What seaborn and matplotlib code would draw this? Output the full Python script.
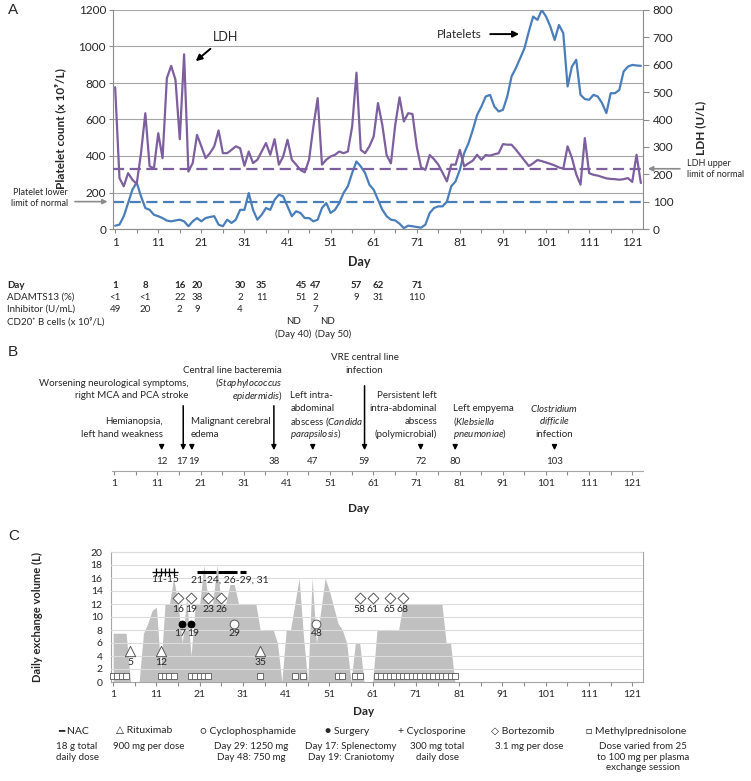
import matplotlib
matplotlib.use("Agg")
from matplotlib import pyplot as plt
from matplotlib.transforms import blended_transform_factory
import seaborn as sns
import pandas as pd

# ---------------- data ----------------
days = list(range(1, 124))
platelets = [18, 24, 70, 142, 215, 255, 179, 115, 105, 78,
             70, 60, 46, 42, 47, 51, 42, 15, 42, 60,
             42, 60, 66, 70, 24, 15, 51, 33, 51, 105,
             105, 197, 105, 51, 78, 115, 105, 160, 188, 179,
             124, 70, 97, 88, 60, 60, 42, 51, 115, 142,
             88, 105, 142, 197, 234, 307, 370, 343, 307, 243,
             215, 160, 106, 70, 51, 47, 29, 5, 18, 15,
             11, 7, 24, 88, 115, 124, 124, 151, 234, 261,
             325, 416, 470, 543, 625, 671, 726, 735, 671, 644,
             653, 726, 836, 882, 936, 991, 1082, 1164, 1146, 1200,
             1164, 1109, 1036, 1118, 1073, 781, 890, 927, 735, 712,
             708, 735, 726, 690, 635, 744, 744, 762, 863, 890,
             899, 896, 894]
ldh = [518, 186, 156, 204, 180, 165, 277, 423, 229, 222,
       350, 259, 551, 596, 545, 328, 638, 210, 241, 344,
       302, 259, 277, 302, 360, 277, 277, 289, 302, 295,
       231, 283, 241, 253, 283, 314, 271, 328, 235, 265,
       326, 253, 235, 216, 207, 253, 374, 478, 235, 253,
       265, 271, 283, 277, 283, 374, 571, 289, 277, 302,
       338, 460, 380, 270, 240, 380, 481, 393, 423, 420,
       300, 225, 216, 270, 255, 235, 205, 174, 235, 235,
       289, 229, 240, 250, 271, 253, 270, 268, 273, 277,
       310, 308, 308, 290, 270, 250, 230, 240, 252, 248,
       243, 238, 232, 225, 220, 302, 260, 200, 162, 332,
       204, 198, 195, 190, 185, 183, 182, 180, 182, 186,
       172, 271, 168]
platelet_lln = 150
ldh_uln = 220

table_days = [1, 8, 16, 20, 30, 35, 45, 47, 57, 62, 71]
adamts13 = ["<1", "<1", "22", "38", "2", "11", "51", "2", "9", "31", "110"]
inhibitor_days = [1, 8, 16, 20, 30, 47]
inhibitor = ["49", "20", "2", "9", "4", "7"]
cd20_labels = ["ND", "ND"]
cd20_notes = ["(Day 40)", "(Day 50)"]

event_days = [12, 17, 19, 38, 47, 59, 72, 80, 103]
event_text = [
    ["Hemianopsia,", "left hand weakness"],
    ["Worsening neurological symptoms,", "right MCA and PCA stroke"],
    ["Malignant cerebral", "edema"],
    ["Central line bacteremia", "($\\mathit{Staphylococcus}$", "$\\mathit{epidermidis}$)"],
    ["Left intra-", "abdominal", "abscess ($\\mathit{Candida}$", "$\\mathit{parapsilosis}$)"],
    ["VRE central line", "infection"],
    ["Persistent left", "intra-abdominal", "abscess", "(polymicrobial)"],
    ["Left empyema", "($\\mathit{Klebsiella}$", "$\\mathit{pneumoniae}$)"],
    ["$\\mathit{Clostridium}$", "$\\mathit{difficile}$", "infection"],
]

volume_days = list(range(1, 81))
volume = [7.5, 7.5, 7.5, 7.5, 0, 0, 0, 7.5, 9, 11,
          11.5, 2, 12, 12, 16, 12, 6, 13, 4, 12,
          12, 18, 12, 12, 18, 12, 12, 15, 15, 12,
          12, 12, 12, 12, 8, 8, 8, 8, 6, 0,
          8, 8, 12, 16, 7, 0, 16, 6, 11, 16,
          14, 11.5, 9, 8, 6, 0, 6, 6, 0, 0,
          0, 8, 8, 8, 8, 8, 8, 12, 12, 12,
          12, 12, 12, 12, 12, 12, 12, 6, 6, 0]
nac_days = [21, 22, 23, 24, 26, 27, 28, 29, 31]
rituximab_days = [5, 12, 35]
cyclophosphamide_days = [29, 48]
surgery_days = [17, 19]
cyclosporine_days = [11, 12, 13, 14, 15]
bortezomib_days = [16, 19, 23, 26, 58, 61, 65, 68]
methylpred_days = [1, 2, 3, 4, 12, 13, 14, 15, 19, 20, 21, 22, 23, 35, 43, 45,
                   53, 54, 57, 58, 62, 63, 64, 65, 66, 67, 68, 69, 70, 71, 72,
                   73, 74, 75, 76, 77, 78, 79, 80]

legend_names = ["\u2501 NAC", "\u25b3 Rituximab", "\u25cb Cyclophosphamide", "\u25cf Surgery",
                "+ Cyclosporine", "\u25c7 Bortezomib", "\u25a1 Methylprednisolone"]
legend_notes = ["18 g total\ndaily dose", "900 mg per dose", "Day 29: 1250 mg\nDay 48: 750 mg",
                "Day 17: Splenectomy\nDay 19: Craniotomy", "300 mg total\ndaily dose",
                "3.1 mg per dose", "Dose varied from 25\nto 100 mg per plasma\nexchange session"]

# ---------------- style ----------------
BLUE = "#4a7ebb"
PURPLE = "#7d5f9f"
TXT = "#262626"
AXC = "#8c8c8c"
AREA = "#c0c0c0"

sns.set_style("white")
plt.rcParams["font.family"] = ["Lato", "DejaVu Sans"]
plt.rcParams["mathtext.fontset"] = "custom"
plt.rcParams["mathtext.rm"] = "Lato"
plt.rcParams["mathtext.it"] = "Lato:italic"
plt.rcParams["text.color"] = TXT

W, H = 751, 781
fig = plt.figure(figsize=(W / 100, H / 100), dpi=100)


def box(x0, y0, x1, y1):
    return [x0 / W, 1 - y1 / H, (x1 - x0) / W, (y1 - y0) / H]


def ftext(x, y, s, **kw):
    fig.text(x / W, 1 - y / H, s, **kw)


def day_axis(ax, size):
    ax.set_xlim(0.5, 123.5)
    ax.set_xticks(range(1, 122, 10))
    ax.set_xticks(range(6, 122, 10), minor=True)
    ax.tick_params(axis="x", which="both", direction="out", length=3, width=0.8,
                   color=AXC, labelcolor=TXT, labelsize=size, pad=3, bottom=True)


# nudge for labels of neighbouring days so they don't touch
def nudge(d, others):
    if d - 2 in others:
        return d + 0.4
    if d + 2 in others:
        return d - 0.4
    return d


# ---------------- panel A ----------------
ax_a = fig.add_axes(box(113, 10, 643, 229))
df_a = pd.DataFrame({"day": days, "platelets": platelets, "ldh": ldh})
sns.lineplot(data=df_a, x="day", y="platelets", ax=ax_a, color=BLUE, lw=1.6)
ax_a.axhline(platelet_lln, color=BLUE, lw=1.6, linestyle=(0, (5, 2.5)))
ax_a.set_ylim(0, 1200)
ax_a.set_yticks(range(0, 1201, 200))
day_axis(ax_a, 8.5)
ax_a.grid(axis="y", color="#a6a6a6", lw=0.8)
ax_a.tick_params(axis="y", direction="out", length=3, color=AXC, labelcolor=TXT,
                 labelsize=8.5, pad=2, left=True)
for s in ("top", "right"):
    ax_a.spines[s].set_visible(False)
for s in ("left", "bottom"):
    ax_a.spines[s].set_color(AXC)
ax_a.set_xlabel("")
ax_a.set_ylabel("")
ax_a.text(-0.1, 0.46, "Platelet count (x 10\u2079/L)", transform=ax_a.transAxes, rotation=90,
          ha="center", va="center", fontsize=8.5, fontweight="bold")
ax_a.text(0.465, -0.15, "Day", transform=ax_a.transAxes, ha="center", va="center",
          fontsize=9, fontweight="bold")

ax_l = ax_a.twinx()
sns.lineplot(data=df_a, x="day", y="ldh", ax=ax_l, color=PURPLE, lw=1.6)
ax_l.axhline(ldh_uln, color=PURPLE, lw=1.6, linestyle=(0, (5, 2.5)))
ax_l.set_ylim(0, 800)
ax_l.set_yticks(range(0, 801, 100))
ax_l.set_ylabel("")
ax_l.tick_params(axis="y", direction="out", length=4, color=AXC, labelcolor=TXT,
                 labelsize=8.5, pad=3, right=True)
for s in ("top", "left", "bottom"):
    ax_l.spines[s].set_visible(False)
ax_l.spines["right"].set_color(AXC)
ax_l.text(1.108, 0.46, "LDH (U/L)", transform=ax_l.transAxes, rotation=90,
          ha="center", va="center", fontsize=8.5, fontweight="bold")

ax_a.annotate("", xy=(19.2, 910), xytext=(23.6, 997),
              arrowprops=dict(arrowstyle="-|>", color="black", lw=1.4, mutation_scale=9))
ax_a.text(26.6, 1052, "LDH", ha="center", va="center", fontsize=9)
ax_a.annotate("", xy=(95.4, 1068), xytext=(87.4, 1068),
              arrowprops=dict(arrowstyle="-|>", color="black", lw=1.4, mutation_scale=9))
ax_a.text(80.8, 1068, "Platelets", ha="center", va="center", fontsize=8.5)

ax_a.annotate("", xy=(-0.005, platelet_lln), xytext=(-0.077, platelet_lln),
              xycoords=("axes fraction", "data"), textcoords=("axes fraction", "data"),
              arrowprops=dict(arrowstyle="-|>", color="#8c8c8c", lw=1.2, mutation_scale=7),
              annotation_clip=False)
ax_a.text(-0.085, platelet_lln + 18, "Platelet lower\nlimit of normal",
          transform=blended_transform_factory(ax_a.transAxes, ax_a.transData),
          ha="right", va="center", fontsize=6.5, linespacing=1.3)
ax_l.annotate("", xy=(1.004, ldh_uln), xytext=(1.075, ldh_uln),
              xycoords=("axes fraction", "data"), textcoords=("axes fraction", "data"),
              arrowprops=dict(arrowstyle="-|>", color="#8c8c8c", lw=1.2, mutation_scale=7),
              annotation_clip=False)
ax_l.text(1.083, ldh_uln, "LDH upper\nlimit of normal",
          transform=blended_transform_factory(ax_l.transAxes, ax_l.transData),
          ha="left", va="center", fontsize=6.5, linespacing=1.3)

# ---------------- table under A ----------------
ax_t = fig.add_axes(box(113, 275, 643, 342))
ax_t.set_xlim(0.5, 123.5)
ax_t.set_ylim(342, 275)
ax_t.axis("off")
lab_tr = blended_transform_factory(fig.transFigure, ax_t.transData)
row_y = [285, 297, 309, 322, 334]
row_labels = ["Day", "ADAMTS13 (%)", "Inhibitor (U/mL)", "CD20\u207a B cells (x 10\u2079/L)"]
for i, lab in enumerate(row_labels):
    ax_t.text(7 / W, row_y[i], lab, transform=lab_tr, ha="left", va="center", fontsize=7,
              fontweight="bold" if i == 0 else "normal")
for d, v in zip(table_days, adamts13):
    x = nudge(d, table_days) if d in (45, 47) else d
    x = x - 0.4 if d == 45 else x
    ax_t.text(x, row_y[0], str(d), ha="center", va="center", fontsize=7, fontweight="bold")
    ax_t.text(x, row_y[1], v, ha="center", va="center", fontsize=7)
for d, v in zip(inhibitor_days, inhibitor):
    x = d + 0.4 if d == 47 else d
    ax_t.text(x, row_y[2], v, ha="center", va="center", fontsize=7)
for x, nx, lab, note in zip([42.3, 50.3], [42.3, 51.6], cd20_labels, cd20_notes):
    ax_t.text(x, row_y[3], lab, ha="center", va="center", fontsize=7)
    ax_t.text(nx, row_y[4], note, ha="center", va="center", fontsize=7)

# ---------------- panel B ----------------
ax_b = fig.add_axes(box(112, 340, 643, 471))
ax_b.set_ylim(471, 340)
day_axis(ax_b, 7.5)
ax_b.set_yticks([])
for s in ("top", "left", "right"):
    ax_b.spines[s].set_visible(False)
ax_b.spines["bottom"].set_color("#a6a6a6")
ax_b.text(0.465, 508, "Day", transform=blended_transform_factory(ax_b.transAxes, ax_b.transData),
          ha="center", va="center", fontsize=8.5, fontweight="bold", clip_on=False)

# anchor day, alignment, level of last line, arrow start
b_layout = [(12.2, "right", 0, 442), (18.3, "right", 3, 403), (18.8, "left", 0, 442),
            (39.9, "right", 3, 403), (41.8, "left", 0, 442), (59.0, "center", 5, 383),
            (75.8, "right", 0, 442), (79.4, "left", 0, 442), (103.0, "center", 0, 442)]
bottom_line, step = 434, 12.7
for d, lines, (ax_x, ha, lvl, top) in zip(event_days, event_text, b_layout):
    n = len(lines)
    for i, line in enumerate(lines):
        y = bottom_line - (lvl + n - 1 - i) * step
        ax_b.text(ax_x, y, line, ha=ha, va="center", fontsize=7)
    ax_b.annotate("", xy=(d, 453), xytext=(d, top),
                  arrowprops=dict(arrowstyle="-|>", color="black", lw=1.1, mutation_scale=7))
    ax_b.text(nudge(d, event_days), 462, str(d), ha="center", va="center", fontsize=7)

# ---------------- panel C ----------------
ax_c = fig.add_axes(box(111, 552, 643, 682))
ax_c.fill_between(volume_days, volume, color=AREA, lw=0, zorder=1)
ax_c.set_ylim(0, 20)
ax_c.set_yticks(range(0, 21, 2))
day_axis(ax_c, 7.5)
ax_c.set_axisbelow(False)
ax_c.grid(axis="y", color="#dcdcdc", lw=0.8)
ax_c.tick_params(axis="y", length=0, labelsize=7.5, labelcolor=TXT, pad=6)
for s in ax_c.spines.values():
    s.set_color("#a6a6a6")
    s.set_linewidth(0.8)
ax_c.text(-0.139, 0.5, "Daily exchange volume (L)", transform=ax_c.transAxes, rotation=90,
          ha="center", va="center", fontsize=8, fontweight="bold")
ax_c.text(0.475, -0.23, "Day", transform=ax_c.transAxes, ha="center", va="center",
          fontsize=8.5, fontweight="bold")


def marks(xs, y, **kw):
    sns.scatterplot(x=xs, y=[y] * len(xs), ax=ax_c, legend=False, zorder=5, clip_on=False, **kw)


marks(methylpred_days, 1, marker="s", s=15, color="white", edgecolor="#595959", linewidth=0.6)
marks(rituximab_days, 4.7, marker="^", s=55, color="white", edgecolor="#595959", linewidth=0.7)
marks(bortezomib_days, 13, marker="D", s=30, color="white", edgecolor="#595959", linewidth=0.7)
marks(cyclophosphamide_days, 9, marker="o", s=40, color="white", edgecolor="#595959", linewidth=0.7)
marks(surgery_days, 9, marker="o", s=26, color="black", edgecolor="black", linewidth=0.5)
marks(cyclosporine_days, 17, marker="+", s=30, color="black", linewidth=0.9)
marks(nac_days, 17, marker="_", s=22, color="black", linewidth=2.2)

for d in rituximab_days:
    ax_c.text(d, 3.0, str(d), ha="center", va="center", fontsize=7.5)
for d in bortezomib_days:
    ax_c.text(d, 11.2, str(d), ha="center", va="center", fontsize=7.5)
for d in surgery_days:
    ax_c.text(nudge(d, surgery_days), 7.4, str(d), ha="center", va="center", fontsize=7.5)
for d in cyclophosphamide_days:
    ax_c.text(d, 7.4, str(d), ha="center", va="center", fontsize=7.5)
ax_c.text(sum(cyclosporine_days) / len(cyclosporine_days), 15.7,
          f"{cyclosporine_days[0]}-{cyclosporine_days[-1]}", ha="center", va="center", fontsize=7.5)
ax_c.text(18.9, 15.7, "21-24, 26-29, 31", ha="left", va="center", fontsize=7.5)

# legend text row
name_x = [73, 144, 248, 347, 432, 523, 636]
note_x = [77, 149, 251, 351, 437, 529, 643]
for nx, name, tx, note in zip(name_x, legend_names, note_x, legend_notes):
    ftext(nx, 731, name, ha="center", va="center", fontsize=7.5)
    ftext(tx, 742, note, ha="center", va="top", fontsize=7, linespacing=1.25)

# panel letters
for lab, y in (("A", 10), ("B", 352), ("C", 536)):
    ftext(8, y, lab, ha="left", va="center", fontsize=11, family="Liberation Sans")

fig.savefig("out.png", dpi=100)
